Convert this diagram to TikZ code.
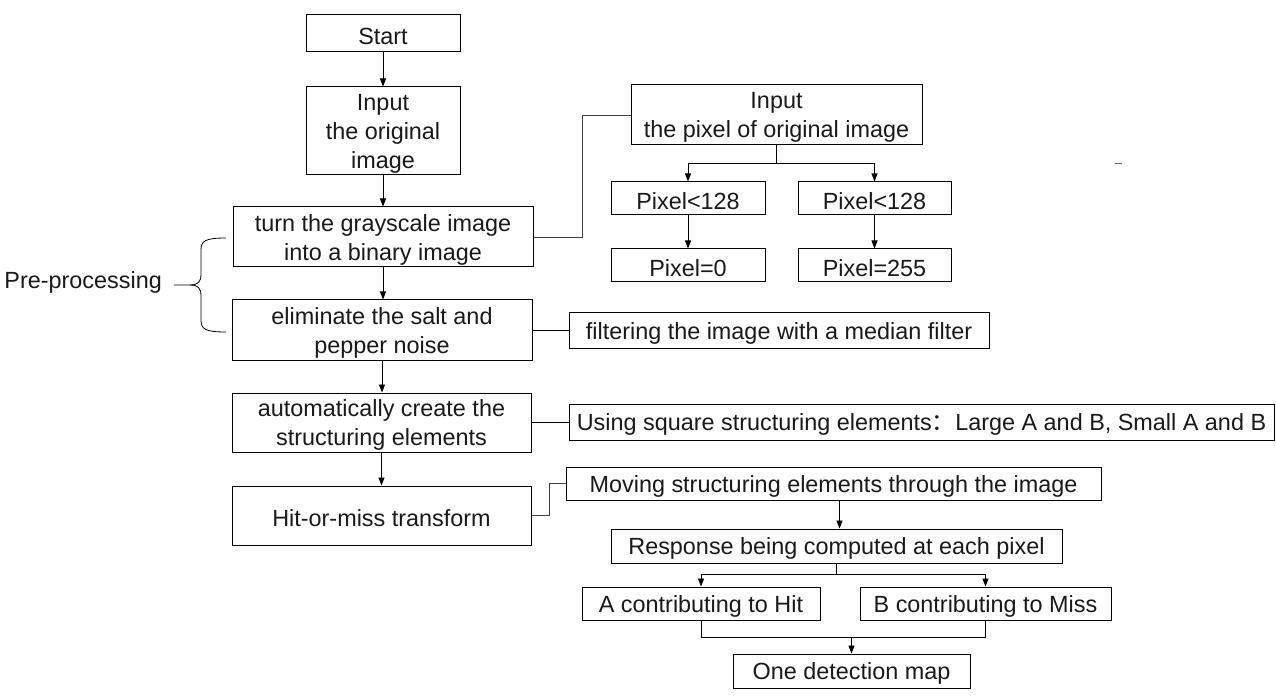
\documentclass[tikz,border=0pt]{standalone}
\usepackage{fontspec}
\setmainfont{Liberation Sans}
\newfontfamily\cjk{Noto Sans CJK SC}
\usetikzlibrary{arrows.meta}
\tikzset{
  boxnode/.style={draw=black, line width=1pt, inner sep=0pt},
  txtnode/.style={inner sep=0pt, align=center,
    font=\fontsize{23.4}{29}\selectfont, text=black!90},
  conn/.style={draw=black, line width=0.9pt},
  arr/.style={conn, -{Triangle[length=8pt,width=6pt]}},
}
\newcommand{\bx}[6]{\node[boxnode, minimum width=#4pt, minimum height=#5pt] (#1) at (#2,#3) {};
  \node[txtnode] (#1t) at ([yshift=-2.5pt]#1.center) {#6};}
\begin{document}
\begin{tikzpicture}[x=1pt,y=-1pt]
\useasboundingbox (0,0) rectangle (1276,700);
\fill[white] (0,0) rectangle (1276,700);
% left column
\bx{start}{383}{33.5}{154}{37}{Start}
\bx{inp}{383}{131}{154}{88}{Input\\the original\\image}
\bx{turn}{383}{237}{300}{60}{turn the grayscale image\\into a binary image}
\bx{elim}{382}{330}{300}{60}{eliminate the salt and\\pepper noise}
\bx{auto}{381.5}{422.5}{299}{59}{automatically create the\\structuring elements}
\bx{hit}{381.5}{515.5}{299}{59}{Hit-or-miss transform}
% right parts
\bx{inpx}{776.5}{115}{291}{60}{Input\\the pixel of original image}
\bx{p1}{688}{198.5}{154}{33}{Pixel<128}
\bx{p2}{874.5}{198.5}{153}{33}{Pixel<128}
\bx{q1}{688}{265.5}{154}{33}{Pixel=0}
\bx{q2}{874.5}{265.5}{153}{33}{Pixel=255}
\bx{filt}{779}{330.5}{420}{35}{filtering the image with a median filter}
\bx{using}{921.5}{422}{705}{36}{Using square structuring elements{\cjk：}Large A and B, Small A and B}
\bx{moving}{833.5}{483.5}{535}{33}{Moving structuring elements through the image}
\bx{resp}{836.5}{546}{451}{34}{Response being computed at each pixel}
\bx{A}{701}{603.5}{238}{33}{A contributing to Hit}
\bx{B}{985.5}{603.5}{251}{33}{B contributing to Miss}
\bx{one}{851.5}{671}{237}{34}{One detection map}
% pre-processing label
\node[txtnode, anchor=east] (pre) at (162,282) {Pre-processing};
% main chain
\draw[arr] (start.south) -- (start.south |- inp.north);
\draw[arr] (inp.south) -- (inp.south |- turn.north);
\draw[arr] (turn.south) -- (turn.south |- elim.north);
\draw[arr] (elim.south) -- (elim.south |- auto.north);
\draw[arr] (auto.south) -- (auto.south |- hit.north);
% side links
\draw[conn, draw=black!75] (turn.east) -- ++(49,0) |- (inpx.west);
\draw[conn] (elim.east) -- (elim.east -| filt.west);
\draw[conn] (auto.east) -- (auto.east -| using.west);
\draw[conn, draw=black!75] (hit.east) -- ++(18,0) |- (moving.west);
% pixel branch
\draw[conn] (inpx.south) -- ++(0,18) coordinate (bp);
\draw[arr] (bp) -| (p1.north);
\draw[arr] (bp) -| (p2.north);
\draw[arr] (p1.south) -- (q1.north);
\draw[arr] (p2.south) -- (q2.north);
% hit-or-miss branch
\draw[arr] (moving.south -| resp.north) ++(3,0) coordinate (mv) -- (mv |- resp.north);
\draw[conn] (resp.south) -- ++(0,11) coordinate (br);
\draw[arr] (br) -| (A.north);
\draw[arr] (br) -| (B.north);
\draw[conn] (A.south) -- ++(0,17) coordinate (ma) -| (B.south);
\draw[arr] (ma -| one.north) -- (one.north);
% brace
\draw[conn, line width=0.8pt] (pre.east) ++(12,3) -- (190,285)
  .. controls (198,285) and (201,282) .. (201,274) -- (201,250)
  .. controls (201,241) and (205,238) .. (226,238);
\draw[conn, line width=0.8pt] (190,285)
  .. controls (198,285) and (201,288) .. (201,296) -- (201,320)
  .. controls (201,329) and (205,332) .. (226,332);
% stray mark
\draw[black!60, line width=0.8pt] (1115,163) -- (1122,163);
\end{tikzpicture}
\end{document}
